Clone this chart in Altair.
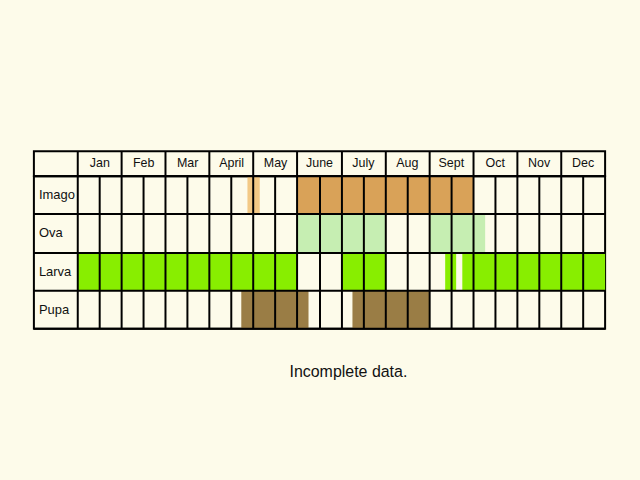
import altair as alt
import pandas as pd

# ---- data ----
months = ["Jan", "Feb", "Mar", "April", "May", "June", "July", "Aug", "Sept", "Oct", "Nov", "Dec"]
stages = ["Imago", "Ova", "Larva", "Pupa"]

# periods in month units (0 = start of Jan, 12 = end of Dec)
bar_stage = ["Imago", "Imago", "Ova", "Ova", "Larva", "Larva", "Larva", "Larva", "Pupa", "Pupa"]
bar_start = [3.86, 5.0, 5.0, 8.0, 0.0, 6.0, 8.36, 8.75, 3.72, 6.25]
bar_end = [4.14, 9.0, 7.0, 9.27, 5.0, 7.0, 8.61, 12.0, 5.25, 8.0]
bar_color = ["#F3C985", "#D9A258", "#C6EEB2", "#C6EEB2", "#88EE00", "#88EE00",
             "#88EE00", "#88EE00", "#9A7D45", "#9A7D45"]

caption = "Incomplete data."

BG = "#FDFBEA"
FONT = "Liberation Sans"

bars_df = pd.DataFrame({"stage": bar_stage, "start": bar_start, "end": bar_end, "color": bar_color})
stage_df = pd.DataFrame({"stage": stages})
month_df = pd.DataFrame({"month": months, "idx": list(range(12))})

xdom = alt.Scale(domain=[-1, 12], nice=False, zero=False)

grid_axis = dict(grid=True, labels=False, ticks=False, domain=False, title=None,
                 gridColor="black", gridWidth=2, gridOpacity=1, zindex=1,
                 minExtent=0, maxExtent=0, offset=0, translate=0)

# ---- header ----
header = alt.Chart(month_df).mark_text(
    font=FONT, fontSize=12.5, color="#111", baseline="middle", align="center"
).transform_calculate(
    mid="datum.idx + 0.5"
).encode(
    x=alt.X("mid:Q", scale=xdom,
            axis=alt.Axis(values=list(range(0, 12)), orient="top", **grid_axis)),
    y=alt.value(12),
    text="month:N",
).properties(width=573, height=25)

# ---- body ----
half_vals = [i / 2 for i in range(0, 24)]
yscale = alt.Scale(domain=stages, paddingInner=0, paddingOuter=0)

bars = alt.Chart(bars_df).mark_bar(strokeWidth=0).encode(
    x=alt.X("start:Q", scale=xdom, axis=alt.Axis(values=half_vals, **grid_axis)),
    x2="end:Q",
    y=alt.Y("stage:N", scale=yscale, axis=alt.Axis(tickBand="extent", **grid_axis)),
    color=alt.Color("color:N", scale=None),
)

labels = alt.Chart(stage_df).mark_text(
    font=FONT, fontSize=13, color="#111", align="left", baseline="middle"
).encode(
    x=alt.value(5),
    y=alt.Y("stage:N", scale=yscale),
    text="stage:N",
)

body = alt.layer(bars, labels).properties(width=573, height=153)

chart = alt.vconcat(header, body, spacing=0, bounds="flush").properties(
    title=alt.TitleParams(caption, orient="bottom", anchor="middle", offset=34, dx=29,
                          font=FONT, fontSize=16, fontWeight="normal", color="#111"),
    padding={"left": 33, "top": 150, "right": 34, "bottom": 103},
    background=BG,
).configure_view(
    stroke="black", strokeWidth=2, fill=BG
).configure_concat(spacing=0)

chart.save("out.html", embed_options={"renderer": "svg", "actions": False})
